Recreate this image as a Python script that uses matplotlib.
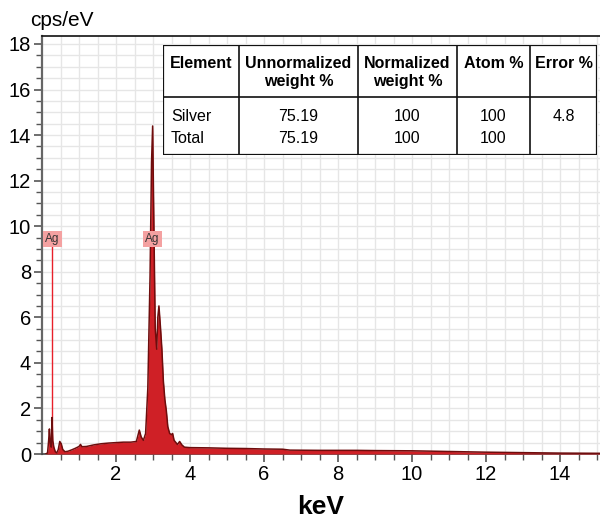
import matplotlib
matplotlib.use("Agg")
import matplotlib.pyplot as plt
from matplotlib.ticker import MultipleLocator
from matplotlib.patches import Rectangle

plt.rcParams['font.family'] = ['Liberation Sans', 'DejaVu Sans']

# ---- data ----
energy_kev = [0.10, 0.15, 0.18, 0.20, 0.22, 0.25, 0.27, 0.29, 0.32, 0.36, 0.40, 0.44, 0.48,
              0.52, 0.56, 0.62, 0.70, 0.80, 0.90, 1.00, 1.04, 1.08, 1.20, 1.40, 1.60, 1.80,
              2.00, 2.20, 2.40, 2.55, 2.63, 2.68, 2.74, 2.80, 2.86, 2.92, 2.96, 2.99, 3.02,
              3.06, 3.10, 3.13, 3.16, 3.20, 3.24, 3.28, 3.32, 3.36, 3.40, 3.45, 3.50, 3.53,
              3.57, 3.62, 3.66, 3.72, 3.78, 3.85, 4.0, 4.5, 5.0, 5.5, 6.0, 6.5, 6.7, 7.5,
              8.5, 9.0, 10.0, 11.0, 12.0, 13.0, 14.0, 15.1]
cps_per_ev = [0.0, 0.05, 0.6, 1.1, 0.5, 0.3, 1.6, 0.6, 0.3, 0.1, 0.05, 0.2, 0.55,
              0.45, 0.2, 0.1, 0.12, 0.18, 0.25, 0.33, 0.42, 0.32, 0.33, 0.40, 0.45, 0.48,
              0.50, 0.52, 0.52, 0.55, 1.05, 0.75, 0.60, 0.9, 2.9, 7.8, 12.8, 14.4, 10.5,
              5.5, 4.6, 6.0, 6.5, 5.6, 4.6, 3.2, 2.4, 1.9, 1.2, 0.9, 0.85, 0.9,
              0.6, 0.5, 0.42, 0.55, 0.4, 0.3, 0.28, 0.27, 0.25, 0.24, 0.22, 0.21, 0.17, 0.16,
              0.16, 0.15, 0.14, 0.11, 0.08, 0.06, 0.04, 0.03]

line_labels = ["Ag", "Ag"]
line_kev = [0.28, 2.98]
line_label_height = [9.45, 9.45]

table_header = ["Element", "Unnormalized\nweight %", "Normalized\nweight %", "Atom %", "Error %"]
table_rows = [["Silver", "75.19", "100", "100", "4.8"],
              ["Total", "75.19", "100", "100", ""]]

x_ticks = [2, 4, 6, 8, 10, 12, 14]
y_ticks = [0, 2, 4, 6, 8, 10, 12, 14, 16, 18]

# ---- figure ----
W, H = 600, 518
fig = plt.figure(figsize=(W / 100, H / 100), dpi=100)
ax = fig.add_axes([42 / W, 1 - 454 / H, 1 - 42 / W, (454 - 36) / H])

ax.set_xlim(0, 15.08)
ax.set_ylim(0, 18.35)

ax.set_xticks(x_ticks)
ax.set_xticks([v * 0.5 for v in range(1, 31)], minor=True)
ax.set_yticks(y_ticks)
ax.set_yticks([v * 0.5 for v in range(0, 37)], minor=True)
ax.grid(True, which='both', color='#e6e6e6', lw=1.0, zorder=0)
ax.set_axisbelow(True)
ax.tick_params(which='major', direction='out', length=6, width=1.2, color='#555555',
               labelsize=14.5, pad=2)
ax.tick_params(which='minor', direction='out', length=4, width=1.0, color='#555555')

ax.spines['right'].set_visible(False)
ax.spines['left'].set_color('#666666')
ax.spines['left'].set_linewidth(1.6)
ax.spines['bottom'].set_color('#444444')
ax.spines['bottom'].set_linewidth(1.2)
ax.spines['top'].set_color('#111111')
ax.spines['top'].set_linewidth(1.2)

# spectrum
ax.fill_between(energy_kev, cps_per_ev, 0, color='#cf2026', lw=0, zorder=3)
ax.plot(energy_kev, cps_per_ev, color='#6e0d0d', lw=1.1, zorder=4)

# element marker lines and labels
for lab, xk, yh in zip(line_labels, line_kev, line_label_height):
    ax.plot([xk, xk], [0, yh], color='#e8202a', lw=1.0, zorder=2.5)
    ax.text(xk, yh, lab, fontsize=8.5, color='#333333', ha='center', va='center', zorder=6,
            bbox=dict(boxstyle='square,pad=0.18', fc='#f4a1a1', ec='none'))

ax.set_xlabel("keV", fontsize=19, fontweight='bold', labelpad=8)
fig.text(30 / W, 1 - 20 / H, "cps/eV", fontsize=15, ha='left', va='center')

# ---- table ----
tx0, tx1, ty0, ty1 = 163, 597, 45, 155
tax = fig.add_axes([tx0 / W, 1 - ty1 / H, (tx1 - tx0) / W, (ty1 - ty0) / H])
tax.set_xlim(tx0, tx1)
tax.set_ylim(ty1, ty0)
tax.axis('off')
tax.add_patch(Rectangle((tx0, ty0), tx1 - tx0, ty1 - ty0, fc='white', ec='#111111', lw=1.6))
col_edges = [163, 239, 358, 457, 530, 597]
for xe in col_edges[1:-1]:
    tax.plot([xe, xe], [ty0, ty1], color='#111111', lw=1.2)
tax.plot([tx0, tx1], [97, 97], color='#111111', lw=1.2)

for i, h in enumerate(table_header):
    xc = (col_edges[i] + col_edges[i + 1]) / 2
    if '\n' in h:
        a, b = h.split('\n')
        tax.text(xc, 63, a, ha='center', va='center', fontsize=11.5, fontweight='bold')
        tax.text(xc, 81, b, ha='center', va='center', fontsize=11.5, fontweight='bold')
    else:
        tax.text(xc, 63, h, ha='center', va='center', fontsize=11.5, fontweight='bold')

row_y = [116, 138]
for r, row in enumerate(table_rows):
    for i, v in enumerate(row):
        if i == 0:
            tax.text(171, row_y[r], v, ha='left', va='center', fontsize=11.5)
        else:
            xc = (col_edges[i] + col_edges[i + 1]) / 2
            tax.text(xc, row_y[r], v, ha='center', va='center', fontsize=11.5)

fig.savefig("out.png", dpi=100)
